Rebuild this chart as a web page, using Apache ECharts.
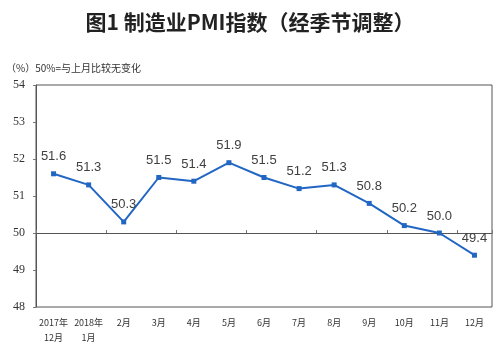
<!DOCTYPE html>
<html>
<head>
<meta charset="utf-8">
<script src="https://cdn.jsdelivr.net/npm/echarts@6/dist/echarts.min.js"></script>
<style>html,body{margin:0;padding:0;background:#fff;}#c{width:500px;height:346px;}</style>
</head>
<body>
<div id="c"></div>
<script>
var categories = ['2017年\n12月','2018年\n1月','2月','3月','4月','5月','6月','7月','8月','9月','10月','11月','12月'];
var pmiValues = [51.6, 51.3, 50.3, 51.5, 51.4, 51.9, 51.5, 51.2, 51.3, 50.8, 50.2, 50.0, 49.4];
var yTicks = [48, 49, 50, 51, 52, 53, 54];
var titleText = '图1 制造业PMI指数（经季节调整）';
var noteText = '（%）50%=与上月比较无变化';

var chart = echarts.init(document.getElementById('c'));
var gridTop = 85, gridBottom = 39;
var plotH = 346 - gridTop - gridBottom;
var yMin = yTicks[0], yMax = yTicks[yTicks.length - 1];
var crossOffset = -plotH * (50 - yMin) / (yMax - yMin);

chart.setOption({
  animation: false,
  backgroundColor: '#fff',
  title: [{
    text: titleText, left: 'center', top: 7,
    textStyle: {fontFamily: 'Noto Sans CJK SC', fontSize: 21, fontWeight: 'bold', color: '#222'}
  }, {
    text: noteText, left: 1, top: 58,
    textStyle: {fontFamily: 'Noto Sans CJK SC', fontSize: 10, fontWeight: 'normal', color: '#333'}
  }],
  grid: {left: 36, right: 8, top: gridTop, bottom: gridBottom, show: true, borderColor: '#555', borderWidth: 1},
  xAxis: [{
    type: 'category', data: categories, position: 'bottom',
    axisLine: {show: false}, axisTick: {show: false},
    axisLabel: {fontFamily: 'Noto Sans CJK SC', fontSize: 9, color: '#333', margin: 8, lineHeight: 15, interval: 0}
  }, {
    type: 'category', data: categories, position: 'bottom', offset: crossOffset,
    axisLine: {show: true, lineStyle: {color: '#555', width: 1}},
    axisTick: {show: true, inside: true, length: 3, lineStyle: {color: '#777'}},
    axisLabel: {show: false}
  }],
  yAxis: {
    type: 'value', min: yMin, max: yMax, interval: 1,
    axisLine: {show: true, lineStyle: {color: '#555'}},
    axisTick: {show: true, length: 3, lineStyle: {color: '#777'}},
    axisLabel: {fontFamily: 'Liberation Serif', fontSize: 12, color: '#333', margin: 11},
    splitLine: {show: false}
  },
  series: [{
    type: 'line', data: pmiValues, xAxisIndex: 0,
    symbol: 'rect', symbolSize: 5,
    lineStyle: {color: '#2266c4', width: 2},
    itemStyle: {color: '#2266c4'},
    label: {
      show: true, position: 'top', distance: 8,
      fontFamily: 'Liberation Sans', fontSize: 13, color: '#404040',
      formatter: function (p) { return p.value.toFixed(1); }
    }
  }]
});
</script>
</body>
</html>
